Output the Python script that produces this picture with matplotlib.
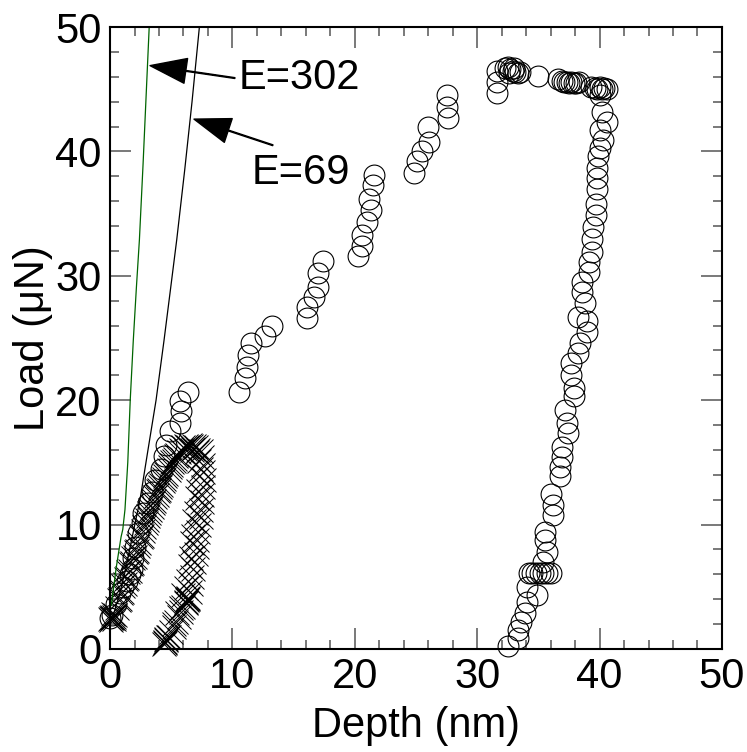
import numpy as np
import matplotlib.pyplot as plt

plt.rcParams['font.family'] = ['Liberation Sans', 'DejaVu Sans']

# first indent: open circles (loading + unloading)
circleDepth = [0.0, 0.15, 0.5, 0.8, 1.1, 1.4, 1.6, 1.8, 1.9, 2.0, 2.3, 2.6, 2.7, 3.1, 3.4, 3.7, 4.2, 4.4,
               4.6, 4.9, 5.7, 5.8, 5.7, 6.4,
               10.5, 11.0, 11.2, 11.3, 11.5, 12.7, 13.2,
               16.1, 16.1, 16.7, 17.0, 17.0, 17.4,
               20.3, 20.6, 20.6, 21.0, 21.3, 21.2, 21.5, 21.6,
               24.8, 25.1, 25.5, 26.1, 26.0,
               27.6, 27.5, 27.5,
               31.6, 31.6, 31.6, 32.3, 32.5, 32.7, 32.9, 33.1, 33.3, 33.5, 32.6, 33.0,
               35.0,
               36.6, 36.9, 37.1, 37.3, 37.5, 37.7, 37.9, 38.1, 38.3,
               39.3, 39.6, 39.8, 40.0, 40.2, 40.4, 40.6,
               40.0, 40.2, 40.6, 40.0, 40.3, 40.0, 39.9, 39.8, 39.8, 39.8, 39.7, 39.7, 39.5, 39.4,
               39.4, 39.1, 39.1, 38.6, 38.6, 38.8, 38.2, 39.0, 39.0, 38.4, 38.2, 37.7, 37.7, 37.9,
               37.9, 37.2, 37.3, 37.4, 36.9, 36.9, 36.8, 36.8, 36.0, 36.2, 36.2, 35.5, 35.5, 35.7,
               35.4, 34.2, 34.5, 34.8, 35.1, 35.4, 35.7, 36.0, 34.1, 34.9, 34.1, 33.9, 33.6, 33.3,
               33.3, 32.5]
circleLoad = [2.5, 2.7, 3.6, 4.5, 5.0, 5.5, 6.0, 6.4, 7.3, 8.2, 9.3, 10.1, 10.9, 11.7, 12.6, 13.6, 14.5, 15.5,
              16.4, 17.5, 18.2, 19.1, 19.9, 20.7,
              20.7, 21.8, 22.7, 23.6, 24.6, 25.2, 26.0,
              26.6, 27.5, 28.3, 29.1, 30.2, 31.2,
              31.6, 32.4, 33.3, 34.3, 35.3, 36.2, 37.3, 38.1,
              38.3, 39.2, 40.0, 40.8, 42.0,
              42.7, 43.6, 44.5,
              44.7, 45.6, 46.5, 46.7, 46.8, 46.6, 46.5, 46.4, 46.3, 46.4, 46.3, 46.7,
              46.1,
              45.8, 45.7, 45.6, 45.6, 45.5, 45.6, 45.5, 45.5, 45.6,
              45.2, 45.1, 45.0, 45.2, 45.0, 45.1, 45.0,
              44.5, 43.2, 42.4, 41.7, 40.9, 40.3, 39.6, 38.7, 37.9, 37.0, 35.8, 34.9, 33.9, 33.0,
              31.9, 31.1, 30.3, 29.5, 28.7, 27.8, 26.7, 26.4, 25.5, 24.6, 23.8, 23.0, 22.0, 21.0,
              20.3, 19.2, 18.2, 17.4, 16.2, 15.4, 14.6, 13.9, 12.5, 11.6, 10.8, 9.4, 8.8, 7.8,
              7.0, 6.1, 6.1, 6.1, 6.1, 6.1, 6.1, 6.1, 5.0, 4.3, 3.8, 2.9, 2.2, 1.5,
              0.9, 0.2]

# second indent: crosses (loading then unloading)
crossDepth = [0.0, 0.1, 0.2, 0.3, 0.4, 0.2, 0.3, 0.1, 0.25, 0.6, 0.8, 1.0, 1.2, 1.4, 1.6, 1.8, 2.0, 2.2,
              2.4, 2.6, 2.8, 3.0, 3.2, 3.4, 3.6, 3.8, 4.1, 4.3, 4.5, 4.8, 5.0, 5.2, 5.4, 5.6, 5.8, 6.0,
              6.2, 6.4, 6.6, 6.8, 7.0, 7.2, 7.4, 6.1, 6.3, 6.5, 6.7, 5.9, 6.9, 7.1,
              0.7, 0.9, 1.1, 1.3, 1.5, 1.7, 1.9, 2.1, 2.3, 2.5, 2.7, 2.9, 3.1, 3.3, 3.5, 3.7, 3.9,
              4.0, 4.2, 4.4, 4.6, 4.9, 5.1, 5.3, 5.5,
              7.5, 7.6, 7.6, 7.7, 7.6, 7.5, 7.5, 7.4, 7.4, 7.3, 7.2, 7.1, 7.1, 7.0, 6.9, 6.8,
              6.7, 6.6, 6.5, 6.3, 6.2, 6.3, 6.4, 6.0, 5.8, 5.6, 5.4, 5.2, 5.0, 4.8, 4.6, 4.5,
              4.6, 4.7, 4.4, 4.5, 6.2, 6.4,
              7.3, 7.4, 7.3, 7.2, 7.1, 7.0, 6.9, 6.8, 6.7, 6.6, 6.5, 6.4, 6.2, 6.0, 5.8, 5.5, 5.2]
crossLoad = [2.4, 2.5, 2.6, 2.4, 2.7, 2.5, 2.6, 2.3, 2.8, 3.3, 4.0, 4.6, 5.2, 5.7, 6.3, 6.9, 7.4, 7.9,
             8.5, 9.1, 9.8, 10.4, 10.9, 11.4, 11.9, 12.4, 13.0, 13.5, 13.9, 14.4, 14.8, 15.1, 15.5, 15.8, 16.0, 16.2,
             16.3, 16.2, 16.3, 16.1, 16.2, 16.0, 15.9, 16.1, 16.2, 16.4, 16.0, 15.9, 16.3, 15.8,
             3.9, 4.5, 5.1, 5.6, 6.2, 6.8, 7.3, 7.8, 8.3, 9.0, 9.5, 10.1, 10.7, 11.2, 11.7, 12.2, 12.7,
             12.8, 13.2, 13.7, 14.1, 14.6, 15.0, 15.3, 15.6,
             15.4, 14.8, 14.2, 13.6, 13.0, 12.4, 11.8, 11.2, 10.6, 10.0, 9.4, 8.8, 8.2, 7.6, 7.0, 6.4,
             5.8, 5.2, 4.6, 4.0, 3.8, 3.9, 4.0, 3.4, 3.0, 2.6, 2.2, 1.8, 1.4, 1.0, 0.7, 0.5,
             0.8, 1.0, 0.4, 0.6, 3.7, 4.1,
             15.1, 14.5, 13.9, 12.7, 12.1, 10.9, 10.3, 9.1, 8.5, 7.3, 6.7, 5.5, 4.9, 4.3, 3.3, 2.9, 2.0]

# Hertz fits
fit302Depth = [0.1, 0.5, 0.9, 1.04, 1.22, 1.45, 1.65, 1.9, 2.15, 2.4, 2.7, 2.95, 3.2]
fit302Load = [3.5, 6.5, 9.0, 9.6, 11.2, 15.0, 20.0, 24.8, 29.0, 32.9, 39.0, 44.5, 50.0]
fit69Depth = [0.2, 0.8, 1.3, 1.77, 2.45, 3.1, 3.76, 4.41, 4.95, 5.45, 6.1, 6.7, 7.3]
fit69Load = [2.5, 4.5, 6.5, 8.8, 12.0, 16.0, 20.0, 24.8, 29.0, 32.9, 38.5, 44.0, 50.0]

fig = plt.figure(figsize=(7.47, 7.52), dpi=100)
ax = fig.add_axes([0.1473, 0.137, 0.8192, 0.827])

ax.plot(crossDepth, crossLoad, 'x', color='black', ms=17, mew=0.7, clip_on=False)
ax.plot(circleDepth, circleLoad, 'o', mfc='none', mec='black', ms=15, mew=0.8, clip_on=False)
ax.plot(fit302Depth, fit302Load, '-', color='#006400', lw=0.9)
ax.plot(fit69Depth, fit69Load, '-', color='black', lw=0.9)

arrowStyle = dict(facecolor='black', edgecolor='black', width=0.6, headwidth=18, headlength=26, shrink=0)
ax.annotate('', xy=(3.27, 46.9), xytext=(10.2, 45.9), arrowprops=arrowStyle)
ax.annotate('', xy=(6.86, 42.6), xytext=(13.3, 40.5), arrowprops=arrowStyle)
ax.text(10.5, 45.9, 'E=302', fontsize=30, ha='left', va='center')
ax.text(11.6, 38.3, 'E=69', fontsize=30, ha='left', va='center')

ax.set_xlim(0, 50)
ax.set_ylim(0, 50)
ax.set_xticks(np.arange(0, 51, 10))
ax.set_yticks(np.arange(0, 51, 10))
ax.set_xticks(np.arange(0, 51, 2), minor=True)
ax.set_yticks(np.arange(0, 51, 2), minor=True)
ax.tick_params(which='both', direction='in', top=True, right=True, color='#555555', width=1.1,
               labelsize=30, pad=6)
ax.tick_params(which='major', length=15)
ax.tick_params(which='minor', length=6.5)
for s in ax.spines.values():
    s.set_linewidth(1.5)

ax.set_xlabel('Depth (nm)', fontsize=30, labelpad=6)
ax.set_ylabel('Load (\u03bcN)', fontsize=30, labelpad=2)

fig.savefig('out.png', dpi=100)
